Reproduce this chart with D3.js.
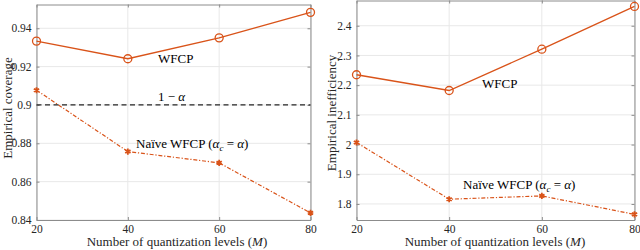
<!DOCTYPE html>
<html><head><meta charset="utf-8">
<script src="https://cdn.jsdelivr.net/npm/d3@7"></script>
<style>body{margin:0;background:#fff}svg{display:block}svg text{font-family:"Liberation Serif","Times New Roman",Times,"DejaVu Serif","Noto Serif",serif !important}</style>
</head><body><svg id="c" width="640" height="250"></svg>
<script>
const levels = [20, 40, 60, 80];
const coverageWFCP = [0.9333, 0.9241, 0.9350, 0.9483];
const coverageNaive = [0.9077, 0.8757, 0.8698, 0.8437];
const targetCoverage = 0.9;
const ineffWFCP = [2.235, 2.182, 2.321, 2.465];
const ineffNaive = [2.007, 1.816, 1.827, 1.765];
const coverageTicks = [0.84, 0.86, 0.88, 0.9, 0.92, 0.94];
const ineffTicks = [1.8, 1.9, 2.0, 2.1, 2.2, 2.3, 2.4];
const coverageTickLabels = ["0.84", "0.86", "0.88", "0.9", "0.92", "0.94"];
const ineffTickLabels = ["1.8", "1.9", "2", "2.1", "2.2", "2.3", "2.4"];

const svg = d3.select("#c");
const color = "#D95319";
const axisCol = "#8c8c8c";
const textCol = "#262626";
const FONT = "'Liberation Serif','Times New Roman',Times,'DejaVu Serif',serif";

function panel(o) {
  const g = svg.append("g");
  const x = d3.scaleLinear().domain([20, 80]).range([o.x0, o.x1]);
  const y = d3.scaleLinear().domain(o.ydom).range([o.y1, o.y0]);
  g.selectAll(".gx").data(levels).join("line")
    .attr("x1", d => x(d)).attr("x2", d => x(d)).attr("y1", o.y0).attr("y2", o.y1)
    .attr("stroke", "#e8e8e8").attr("stroke-width", 1);
  g.selectAll(".gy").data(o.ticks).join("line")
    .attr("x1", o.x0).attr("x2", o.x1).attr("y1", d => y(d)).attr("y2", d => y(d))
    .attr("stroke", "#e8e8e8").attr("stroke-width", 1);
  const ax = g.append("g").attr("transform", `translate(0,${o.y1})`)
    .call(d3.axisBottom(x).tickValues(levels).tickSizeInner(-3).tickSizeOuter(0).tickPadding(5).tickFormat(d3.format("d")));
  const ay = g.append("g").attr("transform", `translate(${o.x0},0)`)
    .call(d3.axisLeft(y).tickValues(o.ticks).tickSizeInner(-3).tickSizeOuter(0).tickPadding(5).tickFormat((d, i) => o.labels[i]));
  const axt = g.append("g").attr("transform", `translate(0,${o.y0})`)
    .call(d3.axisTop(x).tickValues(levels).tickSizeInner(-3).tickSizeOuter(0).tickFormat(""));
  const ayr = g.append("g").attr("transform", `translate(${o.x1},0)`)
    .call(d3.axisRight(y).tickValues(o.ticks).tickSizeInner(-3).tickSizeOuter(0).tickFormat(""));
  [ax, ay, axt, ayr].forEach(a => {
    a.attr("font-family", FONT);
    a.selectAll("path,line").attr("stroke", axisCol);
    a.selectAll("text").attr("fill", textCol).style("font-size", "11.5px");
  });
  const lineGen = d3.line().x((d, i) => x(levels[i])).y(d => y(d));
  g.append("path").datum(o.wfcp).attr("d", lineGen).attr("fill", "none")
    .attr("stroke", color).attr("stroke-width", 1.3);
  g.append("path").datum(o.naive).attr("d", lineGen).attr("fill", "none")
    .attr("stroke", color).attr("stroke-width", 1.2).attr("stroke-dasharray", "4,1.8,1.2,1.8");
  g.selectAll(".m1").data(o.wfcp).join("circle")
    .attr("cx", (d, i) => x(levels[i])).attr("cy", d => y(d)).attr("r", 4)
    .attr("fill", "none").attr("stroke", color).attr("stroke-width", 1.3);
  const star = d3.symbol().type(d3.symbolAsterisk).size(26);
  g.selectAll(".m2").data(o.naive).join("path")
    .attr("transform", (d, i) => `translate(${x(levels[i])},${y(d)})`)
    .attr("d", star).attr("fill", "none").attr("stroke", color).attr("stroke-width", 1.8);
  g.append("text").attr("x", o.tx).attr("y", 246).attr("text-anchor", "middle")
    .attr("font-family", FONT).attr("fill", textCol).style("font-size", "13px")
    .html('Number of quantization levels (<tspan font-style="italic">M</tspan>)');
  g.append("text").attr("transform", `translate(${o.ylx},${o.ylc}) rotate(-90)`)
    .attr("font-family", FONT).attr("text-anchor", "middle").attr("fill", textCol).style("font-size", "13px").text(o.ylabel);
  g.append("text").attr("x", o.wl[0]).attr("y", o.wl[1]).attr("font-family", FONT).attr("fill", "#000").style("font-size", "13px").text("WFCP");
  g.append("text").attr("x", o.nl[0]).attr("y", o.nl[1]).attr("font-family", FONT).attr("fill", "#000").style("font-size", "13px")
    .html('Naïve WFCP (<tspan font-style="italic">α</tspan><tspan font-style="italic" font-size="9px" dy="3">c</tspan><tspan dy="-3"> = </tspan><tspan font-style="italic">α</tspan>)');
  return {g, x, y};
}

const L = panel({x0: 36.5, x1: 310.5, y0: 4.5, y1: 220, ydom: [0.84, 0.9524],
  ticks: coverageTicks, labels: coverageTickLabels, wfcp: coverageWFCP, naive: coverageNaive,
  ylabel: "Empirical coverage", ylx: 12, ylc: 108, wl: [158, 63], nl: [136, 148], tx: 177});
L.g.append("line").attr("x1", 36.5).attr("x2", 310.5).attr("y1", L.y(targetCoverage)).attr("y2", L.y(targetCoverage))
  .attr("stroke", "#262626").attr("stroke-width", 1.2).attr("stroke-dasharray", "5,3.5");
L.g.append("text").attr("x", 158).attr("y", 101).attr("font-family", FONT).attr("fill", "#000").style("font-size", "13px")
  .html('1 − <tspan font-style="italic">α</tspan>');

panel({x0: 356.5, x1: 634.5, y0: 0.5, y1: 220, ydom: [1.746, 2.485],
  ticks: ineffTicks, labels: ineffTickLabels, wfcp: ineffWFCP, naive: ineffNaive,
  ylabel: "Empirical inefficiency", ylx: 336, ylc: 113, wl: [482, 88], nl: [463, 189], tx: 495});
</script></body></html>
